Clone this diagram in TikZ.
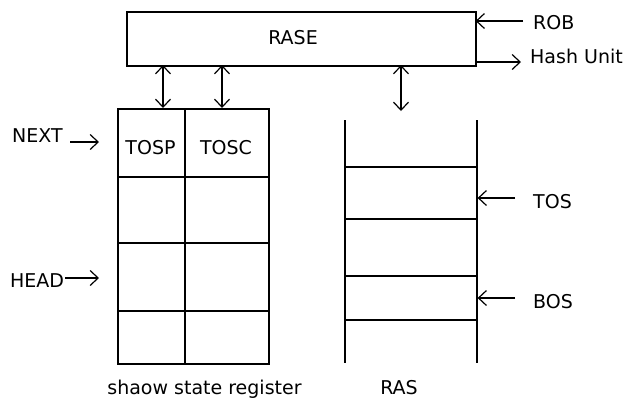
\documentclass[tikz,border=0pt]{standalone}
\usepackage{fontspec}
\setmainfont{DejaVu Sans}
\usetikzlibrary{arrows.meta}
\begin{document}
\begin{tikzpicture}[x=1pt,y=-1pt,
  ln/.style={line width=1.5pt},
  tip/.style={-{Straight Barb[length=8pt,width=15pt,line width=1.2pt]}},
  dbl/.style={{Straight Barb[length=8pt,width=15pt,line width=1.2pt]}-{Straight Barb[length=8pt,width=15pt,line width=1.2pt]}},
  cell/.style={draw,line width=1.5pt,inner sep=0pt,anchor=north west},
  lbl/.style={inner sep=0pt,font=\fontsize{19}{21}\selectfont}]
\useasboundingbox (0,0) rectangle (627,400);
% RASE box
\node[cell,minimum width=349pt,minimum height=54pt] (rase) at (126,11) {};
\node[lbl,anchor=base] (rasetxt) at (293,44) {RASE};
% shadow state register cells
\node[cell,minimum width=67pt,minimum height=68pt] (c11) at (117,108) {};
\node[cell,minimum width=84pt,minimum height=68pt] (c12) at (184,108) {};
\node[cell,minimum width=67pt,minimum height=66pt] (c21) at (117,176) {};
\node[cell,minimum width=84pt,minimum height=66pt] (c22) at (184,176) {};
\node[cell,minimum width=67pt,minimum height=68pt] (c31) at (117,242) {};
\node[cell,minimum width=84pt,minimum height=68pt] (c32) at (184,242) {};
\node[cell,minimum width=67pt,minimum height=53pt] (c41) at (117,310) {};
\node[cell,minimum width=84pt,minimum height=53pt] (c42) at (184,310) {};
\node[lbl,anchor=base] (tosp) at (150.5,154) {TOSP};
\node[lbl,anchor=base] (tosc) at (226,154) {TOSC};
% RAS
\draw[ln] (345,120) -- (345,363);
\draw[ln] (477,120) -- (477,363);
\foreach \y in {167,219,276,320} \draw[ln] (345,\y) -- (477,\y);
% coordinates for connectors
\coordinate (a1t) at (163,65); \coordinate (a1b) at (163,108);
\coordinate (a2t) at (222,65); \coordinate (a2b) at (222,108);
\coordinate (a3t) at (401,65); \coordinate (a3b) at (401,111);
\draw[ln,dbl] (a1t) -- (a1b);
\draw[ln,dbl] (a2t) -- (a2b);
\draw[ln,dbl] (a3t) -- (a3b);
% ROB / Hash Unit
\node[lbl,anchor=base west] (rob) at (533,29) {ROB};
\node[lbl,anchor=base west] (hash) at (530,63) {Hash Unit};
\coordinate (robs) at (523,21); \coordinate (robe) at (475.6,21);
\draw[ln,tip] (robs) -- (robe);
\coordinate (hs) at (475.6,62); \coordinate (he) at (521,62);
\draw[ln,tip] (hs) -- (he);
% NEXT / HEAD
\node[lbl,anchor=base west] (next) at (12,142) {NEXT};
\coordinate (ns) at (70,142); \coordinate (ne) at (99,142);
\draw[ln,tip] (ns) -- (ne);
\node[lbl,anchor=base west] (head) at (10,287) {HEAD};
\coordinate (hds) at (65,278); \coordinate (hde) at (99,278);
\draw[ln,tip] (hds) -- (hde);
% TOS / BOS
\node[lbl,anchor=base west] (tos) at (533,208) {TOS};
\coordinate (ts) at (515,198); \coordinate (te) at (477.6,198);
\draw[ln,tip] (ts) -- (te);
\node[lbl,anchor=base west] (bos) at (533,308) {BOS};
\coordinate (bs) at (515,298); \coordinate (be) at (477.6,298);
\draw[ln,tip] (bs) -- (be);
% captions
\node[lbl,anchor=base] (cap1) at (204.5,394) {shaow state register};
\node[lbl,anchor=base] (cap2) at (399,394) {RAS};
\end{tikzpicture}
\end{document}
